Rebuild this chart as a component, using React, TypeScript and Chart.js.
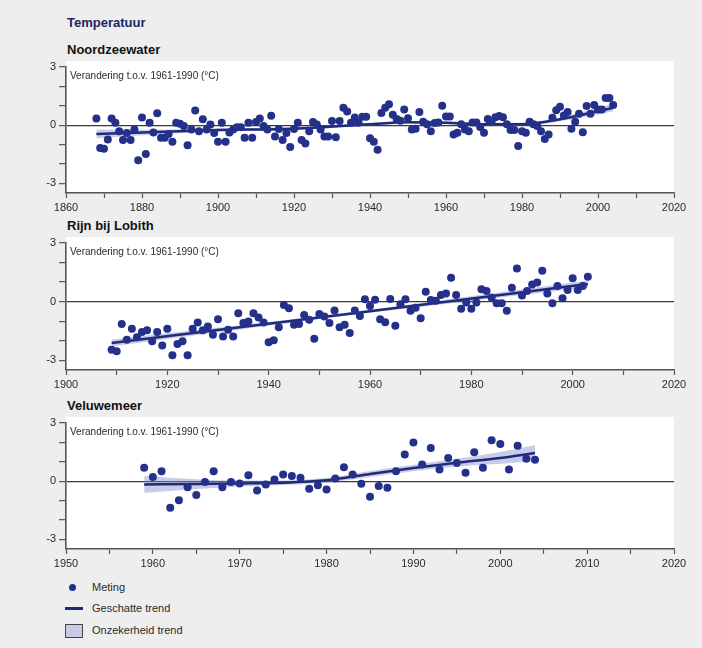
import React, { useEffect, useRef } from "react";
import { Chart, registerables } from "chart.js";

Chart.register(...registerables);

// ---------- Noordzeewater ----------
const noordYears = [
  1868, 1869, 1870, 1871, 1872, 1873, 1874, 1875, 1876, 1877, 1878, 1879, 1880, 1881, 1882, 1883, 1884, 1885, 1886, 1887,
  1888, 1889, 1890, 1891, 1892, 1893, 1894, 1895, 1896, 1897, 1898, 1899, 1900, 1901, 1902, 1903, 1904, 1905, 1906, 1907,
  1908, 1909, 1910, 1911, 1912, 1913, 1914, 1915, 1916, 1917, 1918, 1919, 1920, 1921, 1922, 1923, 1924, 1925, 1926, 1927,
  1928, 1929, 1930, 1931, 1932, 1933, 1934, 1935, 1936, 1937, 1938, 1939, 1940, 1941, 1942, 1943, 1944, 1945, 1946, 1947,
  1948, 1949, 1950, 1951, 1952, 1953, 1954, 1955, 1956, 1957, 1958, 1959, 1960, 1961, 1962, 1963, 1964, 1965, 1966, 1967,
  1968, 1969, 1970, 1971, 1972, 1973, 1974, 1975, 1976, 1977, 1978, 1979, 1980, 1981, 1982, 1983, 1984, 1985, 1986, 1987,
  1988, 1989, 1990, 1991, 1992, 1993, 1994, 1995, 1996, 1997, 1998, 1999, 2000, 2001, 2002, 2003, 2004,
];
const noordValues = [
  0.34, -1.18, -1.22, -0.74, 0.34, 0.13, -0.32, -0.77, -0.41, -0.77, -0.23, -1.81, 0.39, -1.49, 0.13, -0.38, 0.61, -0.65, -0.65, -0.45,
  -0.86, 0.13, 0.07, -0.05, -1.04, -0.23, 0.75, -0.32, 0.31, -0.23, 0.04, -0.41, -0.86, 0.13, -0.86, -0.38, -0.23, -0.11, -0.11, -0.65,
  0.13, -0.65, 0.16, 0.34, -0.05, -0.23, 0.48, -0.59, -0.2, -0.77, -0.41, -1.13, -0.2, 0.13, -0.77, -0.95, -0.32, 0.16, 0.04, -0.23,
  -0.59, -0.59, 0.22, -0.63, 0.22, 0.9, 0.7, 0.13, 0.39, 0.13, 0.43, 0.43, -0.68, -0.86, -1.27, 0.63, 0.9, 1.08, 0.54, 0.32,
  0.23, 0.81, 0.36, -0.22, -0.18, 0.68, 0.18, 0.05, -0.31, 0.11, 0.14, 1.0, 0.45, 0.45, -0.48, -0.39, 0.05, -0.22, -0.31, 0.14,
  0.14, -0.09, -0.39, 0.32, 0.18, 0.41, 0.47, 0.41, 0.05, -0.25, -0.25, -1.08, -0.31, -0.39, 0.18, 0.05, -0.04, -0.31, -0.72, -0.48,
  0.38, 0.77, 0.95, 0.5, 0.68, -0.18, 0.18, 0.59, -0.36, 0.99, 0.59, 1.04, 0.81, 0.81, 1.4, 1.4, 1.04,
];
const noordTrendYears = [1868, 1880, 1900, 1920, 1940, 1950, 1960, 1970, 1980, 1990, 2004];
const noordTrend = [-0.45, -0.38, -0.25, -0.18, 0.05, 0.15, 0.12, 0.05, 0.05, 0.3, 0.9];
const noordTrendLow = [-0.68, -0.52, -0.33, -0.25, -0.02, 0.08, 0.05, -0.02, -0.03, 0.2, 0.7];
const noordTrendHigh = [-0.22, -0.24, -0.17, -0.11, 0.12, 0.22, 0.19, 0.12, 0.13, 0.4, 1.1];
const noordXTicks = [1860, 1870, 1880, 1890, 1900, 1910, 1920, 1930, 1940, 1950, 1960, 1970, 1980, 1990, 2000, 2010, 2020];
const noordXLabels = [1860, 1880, 1900, 1920, 1940, 1960, 1980, 2000, 2020];

// ---------- Rijn bij Lobith ----------
const rijnYears = [
  1909, 1910, 1911, 1912, 1913, 1914, 1915, 1916, 1917, 1918, 1919, 1920, 1921, 1922, 1923, 1924, 1925, 1926, 1927, 1928,
  1929, 1930, 1931, 1932, 1933, 1934, 1935, 1936, 1937, 1938, 1939, 1940, 1941, 1942, 1943, 1944, 1945, 1946, 1947, 1948,
  1949, 1950, 1951, 1952, 1953, 1954, 1955, 1956, 1957, 1958, 1959, 1960, 1961, 1962, 1963, 1964, 1965, 1966, 1967, 1968,
  1969, 1970, 1971, 1972, 1973, 1974, 1975, 1976, 1977, 1978, 1979, 1980, 1981, 1982, 1983, 1984, 1985, 1986, 1987, 1988,
  1989, 1990, 1991, 1992, 1993, 1994, 1995, 1996, 1997, 1998, 1999, 2000, 2001, 2002, 2003,
];
const rijnValues = [
  -2.46, -2.54, -1.15, -1.95, -1.39, -1.83, -1.56, -1.47, -2.03, -1.56, -2.25, -1.39, -2.75, -2.17, -2.03, -2.75, -1.39, -1.07, -1.47, -1.27,
  -1.69, -0.9, -1.78, -1.44, -1.78, -0.59, -1.1, -1.02, -0.59, -0.81, -1.07, -2.08, -1.98, -1.31, -0.17, -0.34, -1.19, -1.15, -0.68, -0.93,
  -1.9, -0.63, -0.76, -1.1, -0.46, -1.31, -1.19, -1.61, -0.46, -0.73, 0.12, -0.22, 0.1, -0.9, -1.05, 0.14, -1.24, -0.14, 0.12, -0.47,
  -0.31, -0.85, 0.51, 0.08, 0.05, 0.34, 0.42, 1.22, 0.34, -0.37, -0.05, -0.37, -0.05, 0.63, 0.54, 0.2, -0.08, -0.08, -0.47, 0.71,
  1.69, 0.31, 0.54, 0.88, 0.98, 1.58, 0.42, -0.08, 0.8, 0.17, 0.59, 1.19, 0.59, 0.8, 1.27,
];
const rijnTrendYears = [1909, 1956, 2003];
const rijnTrend = [-2.12, -0.62, 0.9];
const rijnTrendLow = [-2.3, -0.7, 0.72];
const rijnTrendHigh = [-1.94, -0.54, 1.08];
const rijnXTicks = [1900, 1910, 1920, 1930, 1940, 1950, 1960, 1970, 1980, 1990, 2000, 2010, 2020];
const rijnXLabels = [1900, 1920, 1940, 1960, 1980, 2000, 2020];

// ---------- Veluwemeer ----------
const veluYears = [
  1959, 1960, 1961, 1962, 1963, 1964, 1965, 1966, 1967, 1968, 1969, 1970, 1971, 1972, 1973, 1974, 1975, 1976, 1977, 1978,
  1979, 1980, 1981, 1982, 1983, 1984, 1985, 1986, 1987, 1988, 1989, 1990, 1991, 1992, 1993, 1994, 1995, 1996, 1997, 1998,
  1999, 2000, 2001, 2002, 2003, 2004,
];
const veluValues = [
  0.69, 0.21, 0.51, -1.37, -0.98, -0.31, -0.72, -0.05, 0.51, -0.31, -0.05, -0.12, 0.31, -0.48, -0.17, 0.09, 0.34, 0.26, 0.17, -0.39,
  -0.21, -0.43, 0.14, 0.72, 0.34, -0.14, -0.8, -0.25, -0.34, 0.51, 1.37, 2.0, 0.86, 1.71, 0.6, 1.2, 0.94, 0.43, 1.49, 0.69,
  2.11, 1.92, 0.6, 1.83, 1.15, 1.11,
];
const veluTrendYears = [1959, 1965, 1970, 1975, 1978, 1981, 1985, 1990, 1995, 2000, 2004];
const veluTrend = [-0.17, -0.15, -0.12, -0.08, -0.02, 0.1, 0.37, 0.68, 0.95, 1.2, 1.45];
const veluTrendLow = [-0.6, -0.4, -0.27, -0.2, -0.14, -0.02, 0.22, 0.51, 0.75, 0.9, 1.03];
const veluTrendHigh = [0.26, 0.1, 0.03, 0.04, 0.1, 0.22, 0.52, 0.85, 1.15, 1.5, 1.87];
const veluXTicks = [1950, 1955, 1960, 1965, 1970, 1975, 1980, 1985, 1990, 1995, 2000, 2005, 2010, 2015, 2020];
const veluXLabels = [1950, 1960, 1970, 1980, 1990, 2000, 2010, 2020];

// ---------- shared axis ----------
const yTicks = [-3, -2, -1, 0, 1, 2, 3];
const yLabels = [-3, 0, 3];
const yMin = -3.5;
const yMax = 3;

const mainTitle = "Temperatuur";
const yAxisTitle = "Verandering t.o.v. 1961-1990 (°C)";
const legendLabels = ["Meting", "Geschatte trend", "Onzekerheid trend"];

const FONT = "'Liberation Sans', Arial, Helvetica, sans-serif";
const DOT = "#24308a";
const LINE = "#1f2a7a";
const BAND = "rgba(135,142,205,0.45)";
const AXIS = "#555555";
const TEXT = "#2a2a2a";

type PanelProps = {
  title: string;
  top: number;
  height: number;
  years: number[];
  values: number[];
  trendYears: number[];
  trend: number[];
  low: number[];
  high: number[];
  xTicks: number[];
  xLabels: number[];
};

const pts = (xs: number[], ys: number[]) => xs.map((x, i) => ({ x, y: ys[i] }));

const panelPlugin = {
  id: "panelBg",
  beforeDraw(chart: any) {
    const { ctx, chartArea } = chart;
    ctx.save();
    ctx.fillStyle = "#ffffff";
    ctx.fillRect(chartArea.left, chartArea.top - 6, chartArea.right - chartArea.left, chartArea.bottom - chartArea.top + 6);
    ctx.restore();
  },
  afterDraw(chart: any) {
    const { ctx, chartArea } = chart;
    ctx.save();
    ctx.font = `10px ${FONT}`;
    ctx.fillStyle = TEXT;
    ctx.textBaseline = "middle";
    ctx.textAlign = "left";
    ctx.fillText(yAxisTitle, chartArea.left + 4, chartArea.top + 9);
    ctx.restore();
  },
};

function Panel(p: PanelProps) {
  const ref = useRef<HTMLCanvasElement | null>(null);
  useEffect(() => {
    if (!ref.current) return;
    const chart = new Chart(ref.current, {
      type: "scatter",
      data: {
        datasets: [
          {
            label: legendLabels[0],
            data: pts(p.years, p.values),
            pointRadius: 4,
            pointBackgroundColor: DOT,
            pointBorderColor: DOT,
            pointBorderWidth: 0,
            showLine: false,
          },
          {
            label: legendLabels[1],
            data: pts(p.trendYears, p.trend),
            showLine: true,
            borderColor: LINE,
            borderWidth: 2.5,
            pointRadius: 0,
            cubicInterpolationMode: "monotone",
          },
          {
            label: "hi",
            data: pts(p.trendYears, p.high),
            showLine: true,
            borderWidth: 0,
            borderColor: "rgba(0,0,0,0)",
            pointRadius: 0,
            fill: false,
            cubicInterpolationMode: "monotone",
          },
          {
            label: legendLabels[2],
            data: pts(p.trendYears, p.low),
            showLine: true,
            borderWidth: 0,
            borderColor: "rgba(0,0,0,0)",
            pointRadius: 0,
            fill: "-1",
            backgroundColor: BAND,
            cubicInterpolationMode: "monotone",
          },
        ],
      } as any,
      options: {
        responsive: false,
        animation: false,
        events: [],
        layout: { padding: { left: 0, right: 28, top: 12, bottom: 0 } },
        plugins: { legend: { display: false }, tooltip: { enabled: false } },
        scales: {
          x: {
            type: "linear",
            min: p.xTicks[0],
            max: p.xTicks[p.xTicks.length - 1],
            afterBuildTicks: (s: any) => {
              s.ticks = p.xTicks.map((v) => ({ value: v }));
            },
            afterFit: (s: any) => {
              s.height = 25;
              s.paddingLeft = 0;
              s.paddingRight = 0;
            },
            ticks: {
              autoSkip: false,
              maxRotation: 0,
              padding: 3,
              color: TEXT,
              font: { family: FONT, size: 11 },
              callback: (v: any) => (p.xLabels.includes(Number(v)) ? String(v) : ""),
            },
            grid: { drawOnChartArea: false, drawTicks: true, tickLength: 5, tickColor: AXIS, tickWidth: 1.2 },
            border: { color: AXIS, width: 1.6 },
          },
          y: {
            min: yMin,
            max: yMax,
            afterBuildTicks: (s: any) => {
              s.ticks = yTicks.map((v) => ({ value: v }));
            },
            afterFit: (s: any) => {
              s.width = 66;
              s.paddingTop = 0;
              s.paddingBottom = 0;
            },
            ticks: {
              autoSkip: false,
              padding: 3,
              color: TEXT,
              font: { family: FONT, size: 11 },
              callback: (v: any) => (yLabels.includes(Number(v)) ? String(v) : ""),
            },
            grid: {
              drawOnChartArea: true,
              drawTicks: true,
              tickLength: 7,
              tickColor: AXIS,
              tickWidth: 1.2,
              lineWidth: 1.3,
              color: (c: any) => (c.tick && c.tick.value === 0 ? "#3a3a3a" : "rgba(0,0,0,0)"),
            },
            border: { color: AXIS, width: 1.6 },
          },
        },
      } as any,
      plugins: [panelPlugin],
    });
    return () => chart.destroy();
  }, []);

  return (
    <>
      <div
        style={{
          position: "absolute",
          left: 67,
          top: p.top - 11,
          fontFamily: FONT,
          fontWeight: "bold",
          fontSize: 13,
          lineHeight: "13px",
          color: "#111",
          whiteSpace: "nowrap",
        }}
      >
        {p.title}
      </div>
      <canvas
        ref={ref}
        width={702}
        height={p.height}
        style={{ position: "absolute", left: 0, top: p.top + 1, width: 702, height: p.height }}
      />
    </>
  );
}

export default function App() {
  return (
    <div
      style={{
        position: "fixed",
        left: 0,
        top: 0,
        width: 702,
        height: 648,
        background: "#eeeeee",
        overflow: "hidden",
        fontFamily: FONT,
      }}
    >
      <div
        style={{
          position: "absolute",
          left: 67,
          top: 16,
          fontWeight: "bold",
          fontSize: 13,
          lineHeight: "13px",
          color: "#1c2560",
        }}
      >
        {mainTitle}
      </div>
      <Panel
        title="Noordzeewater"
        top={54}
        height={163}
        years={noordYears}
        values={noordValues}
        trendYears={noordTrendYears}
        trend={noordTrend}
        low={noordTrendLow}
        high={noordTrendHigh}
        xTicks={noordXTicks}
        xLabels={noordXLabels}
      />
      <Panel
        title="Rijn bij Lobith"
        top={230}
        height={164}
        years={rijnYears}
        values={rijnValues}
        trendYears={rijnTrendYears}
        trend={rijnTrend}
        low={rijnTrendLow}
        high={rijnTrendHigh}
        xTicks={rijnXTicks}
        xLabels={rijnXLabels}
      />
      <Panel
        title="Veluwemeer"
        top={410}
        height={163}
        years={veluYears}
        values={veluValues}
        trendYears={veluTrendYears}
        trend={veluTrend}
        low={veluTrendLow}
        high={veluTrendHigh}
        xTicks={veluXTicks}
        xLabels={veluXLabels}
      />
      {/* legend */}
      <div style={{ position: "absolute", left: 69, top: 584, width: 7, height: 7, borderRadius: "50%", background: DOT }} />
      <div style={{ position: "absolute", left: 65, top: 607, width: 18, height: 3, background: LINE }} />
      <div
        style={{
          position: "absolute",
          left: 65,
          top: 624,
          width: 16,
          height: 12,
          background: "#c9cbe6",
          border: "1px solid #444",
        }}
      />
      {legendLabels.map((t, i) => (
        <div
          key={t}
          style={{
            position: "absolute",
            left: 92,
            top: [581, 602, 624][i],
            fontSize: 11,
            lineHeight: "12px",
            color: TEXT,
            whiteSpace: "nowrap",
          }}
        >
          {t}
        </div>
      ))}
    </div>
  );
}
